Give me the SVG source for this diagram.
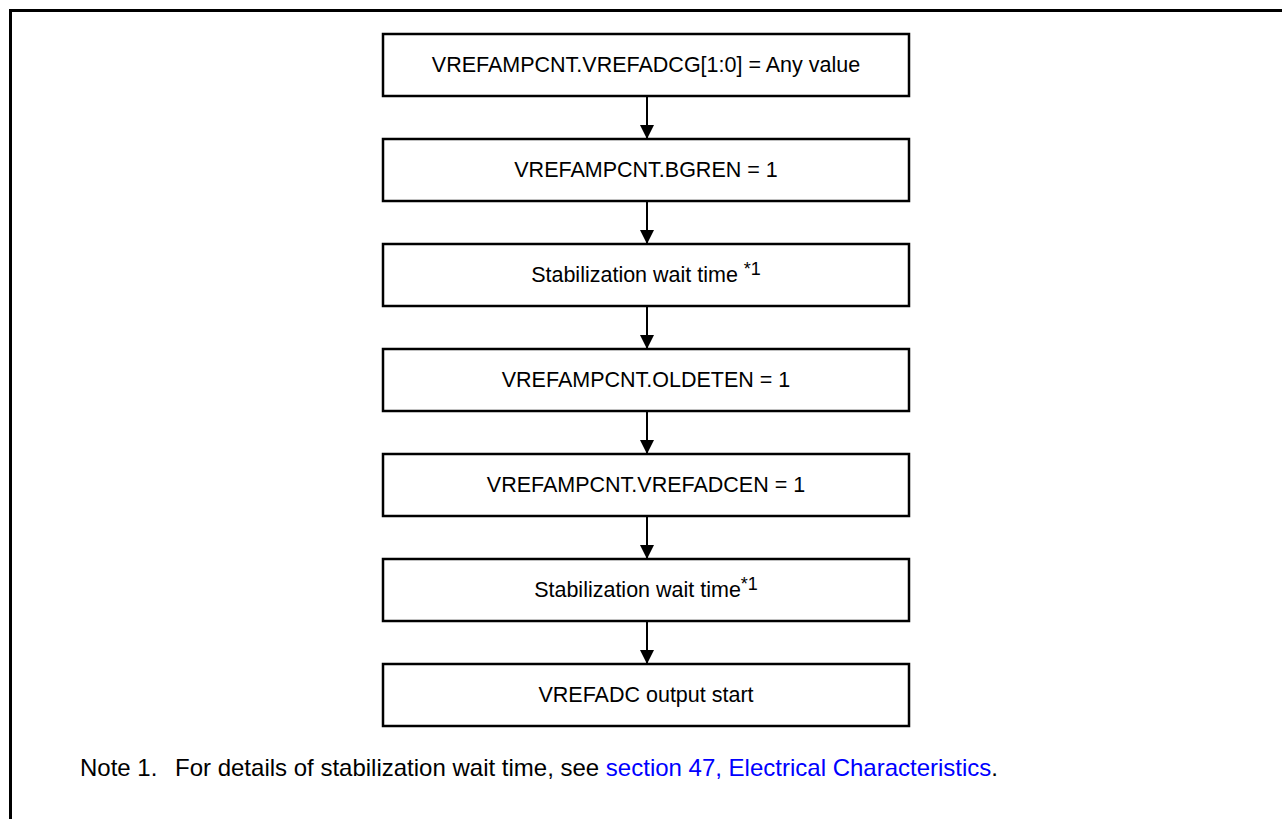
<svg xmlns="http://www.w3.org/2000/svg" width="1282" height="819" viewBox="0 0 1282 819">
<defs>
<style>
.box{fill:#fff;stroke:#000;stroke-width:2.5}
.t{font-family:"Liberation Sans",Arial,sans-serif;font-size:21.5px;fill:#000;text-anchor:middle}
.sup{font-size:18px}
.conn{stroke:#000;stroke-width:2;fill:none}
.note{font-family:"Liberation Sans",Arial,sans-serif;font-size:24px;fill:#000}
.link{fill:#0000ff}
</style>
<marker id="ah" viewBox="0 0 10 10" refX="10" refY="5" markerWidth="7" markerHeight="7" markerUnits="strokeWidth" orient="auto">
<path d="M0,0 L10,5 L0,10 z" fill="#000"/>
</marker>
</defs>
<rect width="1282" height="819" fill="#fff"/>
<path d="M10.5,819 V10.5 H1282" fill="none" stroke="#000" stroke-width="3"/>
<g id="connectors">
<line class="conn" x1="647" y1="96" x2="647" y2="139" marker-end="url(#ah)"/>
<line class="conn" x1="647" y1="201" x2="647" y2="244" marker-end="url(#ah)"/>
<line class="conn" x1="647" y1="306" x2="647" y2="349" marker-end="url(#ah)"/>
<line class="conn" x1="647" y1="411" x2="647" y2="454" marker-end="url(#ah)"/>
<line class="conn" x1="647" y1="516" x2="647" y2="559" marker-end="url(#ah)"/>
<line class="conn" x1="647" y1="621" x2="647" y2="664" marker-end="url(#ah)"/>
</g>
<g id="n1"><rect class="box" x="383" y="34" width="526" height="62"/><text class="t" x="646" y="72">VREFAMPCNT.VREFADCG[1:0] = Any value</text></g>
<g id="n2"><rect class="box" x="383" y="139" width="526" height="62"/><text class="t" x="646" y="177">VREFAMPCNT.BGREN = 1</text></g>
<g id="n3"><rect class="box" x="383" y="244" width="526" height="62"/><text class="t" x="646" y="282">Stabilization wait time <tspan class="sup" dy="-7">*1</tspan></text></g>
<g id="n4"><rect class="box" x="383" y="349" width="526" height="62"/><text class="t" x="646" y="387">VREFAMPCNT.OLDETEN = 1</text></g>
<g id="n5"><rect class="box" x="383" y="454" width="526" height="62"/><text class="t" x="646" y="492">VREFAMPCNT.VREFADCEN = 1</text></g>
<g id="n6"><rect class="box" x="383" y="559" width="526" height="62"/><text class="t" x="646" y="597">Stabilization wait time<tspan class="sup" dy="-7">*1</tspan></text></g>
<g id="n7"><rect class="box" x="383" y="664" width="526" height="62"/><text class="t" x="646" y="702">VREFADC output start</text></g>
<g id="note">
<text class="note" x="80" y="776">Note 1.</text>
<text class="note" x="175" y="776">For details of stabilization wait time, see <tspan class="link">section 47, Electrical Characteristics</tspan>.</text>
</g>
</svg>
